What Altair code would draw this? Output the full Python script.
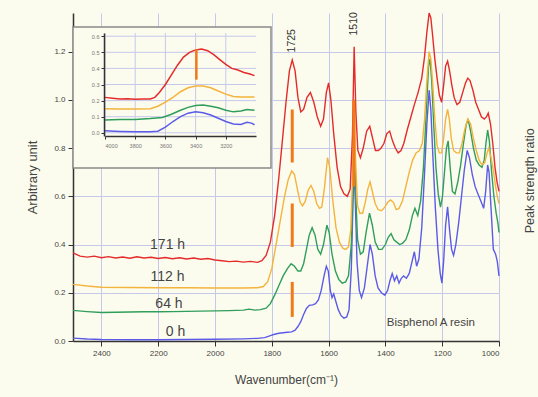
import altair as alt
import pandas as pd

# ---------------- data ----------------
x_ticks = [2400, 2200, 2000, 1800, 1600, 1400, 1200, 1000]
y_ticks = [0.0, 0.2, 0.4, 0.6, 0.8, 1.0, 1.2]

red_171h = [(2500,0.365),(2475,0.352),(2450,0.348),(2425,0.352),(2400,0.345),(2375,0.350),(2350,0.344),
    (2325,0.348),(2300,0.343),(2275,0.349),(2250,0.344),(2225,0.347),(2200,0.342),(2175,0.346),(2150,0.341),
    (2125,0.345),(2100,0.340),(2075,0.344),(2050,0.339),(2025,0.342),(2000,0.336),(1975,0.333),(1950,0.329),
    (1925,0.331),(1900,0.327),(1875,0.330),(1850,0.326),(1835,0.333),(1820,0.355),(1805,0.41),(1790,0.52),
    (1775,0.68),(1762,0.84),(1750,0.99),(1738,1.12),(1728,1.165),(1718,1.12),(1708,1.01),(1698,0.95),
    (1688,0.96),(1676,1.01),(1664,1.03),(1652,0.99),(1640,0.93),(1628,0.89),(1618,0.92),(1608,1.03),
    (1600,1.07),(1592,1.0),(1582,0.86),(1570,0.72),(1558,0.64),(1546,0.61),(1534,0.60),(1524,0.63),
    (1516,0.85),(1510,1.22),(1504,0.95),(1497,0.79),(1488,0.76),(1478,0.80),(1466,0.87),(1455,0.89),
    (1445,0.84),(1435,0.79),(1425,0.79),(1415,0.80),(1405,0.82),(1395,0.86),(1385,0.87),(1375,0.83),
    (1365,0.80),(1355,0.78),(1345,0.79),(1335,0.82),(1322,0.88),(1310,0.93),(1298,0.98),(1285,1.03),
    (1272,1.09),(1262,1.18),(1254,1.28),(1246,1.36),(1240,1.34),(1234,1.27),(1226,1.17),(1218,1.09),
    (1210,1.02),(1202,0.99),(1195,1.06),(1188,1.14),(1181,1.16),(1174,1.12),(1166,1.06),(1158,1.01),
    (1148,0.98),(1138,0.99),(1128,1.03),(1118,1.07),(1110,1.09),(1102,1.08),(1092,1.04),(1082,0.99),
    (1072,0.96),(1062,0.93),(1052,0.92),(1044,0.93),(1038,0.945),(1030,0.90),(1022,0.82),(1014,0.72),
    (1007,0.66),(1000,0.62)]

orange_112h = [(2500,0.235),(2450,0.228),(2400,0.223),(2300,0.222),(2200,0.221),(2100,0.221),(2000,0.220),
    (1900,0.220),(1850,0.221),(1830,0.226),(1815,0.245),(1800,0.30),(1785,0.40),(1770,0.50),(1755,0.60),
    (1742,0.67),(1730,0.705),(1720,0.69),(1710,0.63),(1700,0.575),(1692,0.56),(1682,0.58),(1672,0.625),
    (1662,0.645),(1652,0.62),(1642,0.57),(1632,0.55),(1624,0.555),(1614,0.64),(1604,0.76),(1596,0.72),
    (1586,0.59),(1574,0.47),(1562,0.41),(1550,0.385),(1540,0.38),(1530,0.39),(1522,0.46),(1515,0.70),
    (1510,1.0),(1505,0.75),(1498,0.56),(1490,0.53),(1480,0.53),(1470,0.58),(1462,0.63),(1454,0.66),
    (1446,0.62),(1436,0.57),(1426,0.545),(1414,0.54),(1402,0.555),(1392,0.575),(1382,0.585),(1372,0.575),
    (1362,0.545),(1352,0.55),(1340,0.58),(1328,0.64),(1316,0.70),(1304,0.75),(1292,0.78),(1280,0.79),
    (1270,0.82),(1262,0.92),(1254,1.08),(1246,1.2),(1240,1.17),(1233,1.06),(1226,0.92),(1218,0.81),
    (1210,0.78),(1202,0.78),(1195,0.84),(1188,0.92),(1181,0.96),(1175,0.92),(1168,0.84),(1160,0.79),
    (1150,0.78),(1140,0.78),(1130,0.82),(1120,0.88),(1110,0.92),(1100,0.90),(1090,0.84),(1080,0.79),
    (1070,0.75),(1060,0.73),(1050,0.74),(1042,0.78),(1036,0.80),(1028,0.76),(1020,0.71),(1012,0.64),
    (1006,0.60),(1000,0.57)]

green_64h = [(2500,0.127),(2450,0.122),(2400,0.118),(2350,0.119),(2300,0.120),(2250,0.121),(2200,0.121),
    (2150,0.122),(2100,0.123),(2050,0.124),(2000,0.125),(1950,0.126),(1900,0.128),(1880,0.132),(1860,0.128),
    (1840,0.130),(1820,0.136),(1805,0.155),(1790,0.19),(1775,0.23),(1760,0.27),(1745,0.30),(1732,0.32),
    (1720,0.31),(1708,0.29),(1698,0.29),(1688,0.32),(1678,0.38),(1668,0.44),(1658,0.47),(1648,0.44),
    (1638,0.38),(1628,0.36),(1618,0.40),(1606,0.48),(1598,0.45),(1588,0.36),(1576,0.29),(1564,0.255),
    (1552,0.24),(1540,0.245),(1530,0.27),(1520,0.40),(1514,0.65),(1510,0.84),(1505,0.62),(1498,0.42),
    (1488,0.36),(1478,0.37),(1468,0.45),(1456,0.53),(1446,0.48),(1436,0.41),(1424,0.38),(1412,0.38),
    (1400,0.40),(1390,0.43),(1380,0.445),(1370,0.42),(1360,0.41),(1350,0.40),(1340,0.405),(1328,0.42),
    (1316,0.46),(1305,0.52),(1296,0.55),(1286,0.52),(1276,0.58),(1266,0.72),(1256,0.95),(1248,1.14),
    (1243,1.17),(1237,1.08),(1230,0.90),(1222,0.72),(1214,0.61),(1206,0.555),(1199,0.60),(1192,0.70),
    (1185,0.80),(1179,0.83),(1172,0.72),(1164,0.62),(1155,0.61),(1145,0.66),(1135,0.73),(1125,0.82),
    (1115,0.90),(1108,0.915),(1100,0.87),(1090,0.80),(1080,0.75),(1070,0.73),(1060,0.72),(1052,0.75),
    (1046,0.82),(1040,0.875),(1034,0.83),(1026,0.70),(1018,0.60),(1010,0.53),(1004,0.49),(1000,0.45)]

blue_0h = [(2500,0.012),(2450,0.008),(2400,0.006),(2300,0.005),(2200,0.005),(2100,0.006),(2000,0.007),
    (1900,0.009),(1850,0.011),(1825,0.014),(1805,0.022),(1790,0.028),(1775,0.032),(1760,0.034),(1745,0.036),
    (1730,0.038),(1718,0.045),(1708,0.06),(1698,0.08),(1688,0.11),(1678,0.135),(1668,0.148),(1656,0.15),
    (1646,0.155),(1636,0.17),(1626,0.21),(1616,0.27),(1608,0.31),(1601,0.29),(1594,0.21),(1588,0.18),
    (1582,0.195),(1576,0.17),(1566,0.13),(1556,0.105),(1546,0.095),(1536,0.10),(1528,0.13),(1520,0.30),
    (1513,0.62),(1510,0.72),(1506,0.58),(1500,0.33),(1492,0.21),(1484,0.18),(1474,0.22),(1464,0.31),
    (1454,0.40),(1446,0.36),(1436,0.27),(1426,0.22),(1414,0.20),(1402,0.19),(1392,0.21),(1384,0.25),
    (1376,0.28),(1368,0.25),(1360,0.27),(1352,0.24),(1344,0.26),(1336,0.27),(1326,0.26),(1316,0.28),
    (1306,0.33),(1298,0.37),(1290,0.31),(1282,0.34),(1272,0.47),(1262,0.70),(1254,0.90),(1246,1.04),
    (1240,0.96),(1233,0.77),(1224,0.55),(1215,0.38),(1207,0.28),(1201,0.24),(1195,0.33),(1188,0.48),
    (1181,0.556),(1174,0.46),(1167,0.38),(1160,0.355),(1152,0.40),(1142,0.49),(1132,0.60),(1122,0.71),
    (1112,0.79),(1104,0.76),(1094,0.69),(1084,0.64),(1074,0.61),(1064,0.58),(1054,0.55),(1047,0.62),
    (1040,0.73),(1035,0.70),(1028,0.55),(1020,0.38),(1012,0.36),(1006,0.33),(1000,0.27)]

# peak-strength markers (wavenumber, low, high)
markers_main = [(1728,0.74,0.96),(1728,0.39,0.57),(1728,0.10,0.245),(1511,0.64,1.0)]

curve_labels = ["171 h", "112 h", "64 h", "0 h"]
curve_label_wn = [2167, 2167, 2162, 2139]
curve_label_v = [0.40, 0.265, 0.155, 0.037]

peak_labels = ["1725", "1510"]
peak_label_wn = [1730, 1511]
peak_label_v = [1.245, 1.315]

# inset (O-H region)
inset_x_ticks = [4000, 3800, 3600, 3400, 3200]
inset_y_ticks = [0.0, 0.1, 0.2, 0.3, 0.4, 0.5, 0.6]

red_in = [(4000,0.22),(3950,0.215),(3900,0.21),(3850,0.212),(3800,0.208),(3750,0.21),(3700,0.21),
    (3670,0.22),(3640,0.25),(3600,0.30),(3560,0.36),(3520,0.42),(3480,0.47),(3440,0.50),(3400,0.515),
    (3360,0.52),(3320,0.51),(3280,0.485),(3240,0.455),(3200,0.425),(3160,0.40),(3120,0.39),(3080,0.375),
    (3040,0.365),(3010,0.355)]
orange_in = [(4000,0.15),(3900,0.148),(3800,0.148),(3700,0.15),(3650,0.165),(3600,0.19),(3550,0.22),
    (3500,0.255),(3450,0.28),(3400,0.29),(3350,0.29),(3300,0.28),(3250,0.26),(3200,0.24),(3150,0.225),
    (3100,0.222),(3050,0.222),(3010,0.222)]
green_in = [(4000,0.08),(3900,0.082),(3800,0.083),(3700,0.088),(3620,0.095),(3560,0.115),(3500,0.14),
    (3450,0.158),(3400,0.17),(3350,0.172),(3300,0.165),(3250,0.155),(3200,0.14),(3150,0.13),(3100,0.135),
    (3060,0.145),(3010,0.14)]
blue_in = [(4000,0.012),(3900,0.008),(3800,0.006),(3700,0.006),(3650,0.01),(3600,0.035),(3550,0.07),
    (3500,0.10),(3450,0.122),(3400,0.13),(3350,0.125),(3300,0.11),(3250,0.09),(3200,0.07),(3150,0.055),
    (3100,0.052),(3060,0.065),(3030,0.06),(3010,0.05)]
marker_in = [(3395,0.33,0.52)]

# ---------------- style ----------------
BG = "#fcfcee"
GRID = "#c6c8ea"
RED, ORANGE, GREEN, BLUE = "#e42b2b", "#f3b33d", "#2f9e5b", "#5b5be8"
MARK = "#f07a1a"
TXT = "#444444"
FONT = "Liberation Sans"

W, H = 426, 328
X_DOMAIN = [1000, 2500]
Y_DOMAIN = [0, 1.36]
IX_DOMAIN = [3000, 4000]
IY_DOMAIN = [-0.02, 0.62]
IX_RANGE = [183, 32]
IY_RANGE = [123, 20]


def frame(pairs):
    return pd.DataFrame({"wn": [p[0] for p in pairs], "v": [p[1] for p in pairs]})


xs = alt.Scale(domain=X_DOMAIN, reverse=True, nice=False, zero=False)
ys = alt.Scale(domain=Y_DOMAIN, nice=False, zero=False)

x_axis = alt.Axis(orient="bottom", values=x_ticks, format="d", title="Wavenumber(cm\u207b\u00b9)",
                  grid=True, gridColor=GRID, gridWidth=1, tickSize=5, tickColor="#333",
                  domainColor="#333", domainWidth=1.5, labelFontSize=8, labelColor=TXT,
                  labelFont=FONT, labelPadding=3, titleFont=FONT, titleFontSize=12,
                  titleColor=TXT, titleFontWeight="normal", titlePadding=17)
y_axis = alt.Axis(orient="left", values=y_ticks, format=".1f", title="Arbitrary unit", grid=True,
                  gridColor=GRID, gridWidth=1, tickSize=5, tickColor="#333", domainColor="#333",
                  domainWidth=1.5, labelFontSize=8, labelColor=TXT, labelFont=FONT, labelPadding=3,
                  titleFont=FONT, titleFontSize=13, titleColor=TXT, titleFontWeight="normal",
                  titlePadding=14)


def main_line(pairs, color, with_axes=False):
    return alt.Chart(frame(pairs)).mark_line(color=color, strokeWidth=1.4).encode(
        x=alt.X("wn:Q", scale=xs, axis=x_axis if with_axes else None),
        y=alt.Y("v:Q", scale=ys, axis=y_axis if with_axes else None),
        order="wn:Q",
    )


main_markers = alt.Chart(pd.DataFrame(markers_main, columns=["wn", "lo", "hi"])).mark_rule(
    color=MARK, strokeWidth=3).encode(
    x=alt.X("wn:Q", scale=xs, axis=None), y=alt.Y("lo:Q", scale=ys, axis=None), y2="hi:Q")

curve_text = alt.Chart(pd.DataFrame({"t": curve_labels, "wn": curve_label_wn, "v": curve_label_v})).mark_text(
    font=FONT, fontSize=14, color=TXT, baseline="middle", align="center").encode(
    x=alt.X("wn:Q", scale=xs, axis=None), y=alt.Y("v:Q", scale=ys, axis=None), text="t:N")

peak_text = alt.Chart(pd.DataFrame({"t": peak_labels, "wn": peak_label_wn, "v": peak_label_v})).mark_text(
    font=FONT, fontSize=10.5, color="#333", baseline="middle", align="center", angle=270).encode(
    x=alt.X("wn:Q", scale=xs, axis=None), y=alt.Y("v:Q", scale=ys, axis=None), text="t:N")

misc_text = alt.Chart(pd.DataFrame({"t": ["Bisphenol A resin"], "wn": [1240], "v": [0.075]})).mark_text(
    font=FONT, fontSize=11.5, color=TXT, baseline="middle", align="center").encode(
    x=alt.X("wn:Q", scale=xs, axis=None), y=alt.Y("v:Q", scale=ys, axis=None), text="t:N")

right_title = alt.Chart(pd.DataFrame({"t": ["Peak strength ratio"], "wn": [891], "v": [0.664]})).mark_text(
    font=FONT, fontSize=12.5, color=TXT, baseline="middle", align="center", angle=270).encode(
    x=alt.X("wn:Q", scale=xs, axis=None), y=alt.Y("v:Q", scale=ys, axis=None), text="t:N")

# ---------------- inset ----------------
ixs = alt.Scale(domain=IX_DOMAIN, range=IX_RANGE, nice=False, zero=False)
iys = alt.Scale(domain=IY_DOMAIN, range=IY_RANGE, nice=False, zero=False)

ix_axis = alt.Axis(orient="bottom", offset=-(H - IY_RANGE[0]), values=inset_x_ticks, format="d",
                   title=None, grid=False, tickSize=3, tickColor="#333", domainColor="#333",
                   domainWidth=1.5, labelFontSize=5.5, labelColor="#777", labelFont=FONT,
                   labelPadding=4, zindex=1)
iy_axis = alt.Axis(orient="left", offset=-(IX_RANGE[1] - 1), values=inset_y_ticks, format=".1f",
                   title=None, grid=False, tickSize=3, tickColor="#333", domainColor="#333",
                   domainWidth=1.5, labelFontSize=5.5, labelColor="#777", labelFont=FONT,
                   labelPadding=2, zindex=1)

box = alt.Chart(pd.DataFrame({"k": [0]})).mark_rect(fill=BG, stroke="#888", strokeWidth=1.5).encode(
    x=alt.value(0), x2=alt.value(198), y=alt.value(14), y2=alt.value(155))

igrid_v = alt.Chart(pd.DataFrame({"wn": inset_x_ticks, "lo": IY_DOMAIN[0], "hi": IY_DOMAIN[1]})).mark_rule(
    color=GRID, strokeWidth=1).encode(
    x=alt.X("wn:Q", scale=ixs, axis=None), y=alt.Y("lo:Q", scale=iys, axis=None), y2="hi:Q")
igrid_h = alt.Chart(pd.DataFrame({"v": inset_y_ticks, "a": IX_DOMAIN[1], "b": IX_DOMAIN[0]})).mark_rule(
    color=GRID, strokeWidth=1).encode(
    y=alt.Y("v:Q", scale=iys, axis=None), x=alt.X("a:Q", scale=ixs, axis=None), x2="b:Q")


def inset_line(pairs, color, with_axes=False):
    return alt.Chart(frame(pairs)).mark_line(color=color, strokeWidth=1.5).encode(
        x=alt.X("wn:Q", scale=ixs, axis=ix_axis if with_axes else None),
        y=alt.Y("v:Q", scale=iys, axis=iy_axis if with_axes else None),
        order="wn:Q",
    )


inset_mark = alt.Chart(pd.DataFrame(marker_in, columns=["wn", "lo", "hi"])).mark_rule(
    color=MARK, strokeWidth=2.5).encode(
    x=alt.X("wn:Q", scale=ixs, axis=None), y=alt.Y("lo:Q", scale=iys, axis=None), y2="hi:Q")

chart = alt.layer(
    main_line(blue_0h, BLUE, with_axes=True),
    main_line(green_64h, GREEN),
    main_line(orange_112h, ORANGE),
    main_line(red_171h, RED),
    main_markers, curve_text, peak_text, misc_text, right_title,
    box, igrid_v, igrid_h,
    inset_line(blue_in, BLUE, with_axes=True),
    inset_line(green_in, GREEN),
    inset_line(orange_in, ORANGE),
    inset_line(red_in, RED),
    inset_mark,
).resolve_scale(x="independent", y="independent").properties(
    width=W, height=H,
    autosize=alt.AutoSizeParams(type="none"),
    padding={"left": 73, "top": 13, "right": 39, "bottom": 56},
    background=BG,
).configure_view(stroke=None, fill=BG)

chart.save("out.html", embed_options={"renderer": "svg", "actions": False})
